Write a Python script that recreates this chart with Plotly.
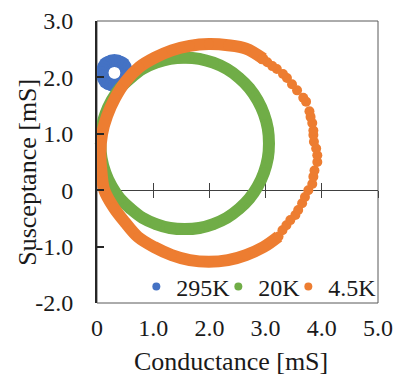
import plotly.graph_objects as go

# ---- data ----
series_names = ["295K", "20K", "4.5K"]

blue_g = [0.53, 0.52, 0.50, 0.47, 0.42, 0.37, 0.31, 0.25, 0.20, 0.15, 0.12, 0.10,
          0.09, 0.10, 0.12, 0.15, 0.20, 0.25, 0.31, 0.37, 0.42, 0.47, 0.50, 0.52]
blue_b = [2.08, 2.14, 2.19, 2.24, 2.27, 2.29, 2.30, 2.29, 2.27, 2.24, 2.19, 2.14,
          2.08, 2.02, 1.97, 1.92, 1.89, 1.87, 1.86, 1.87, 1.89, 1.92, 1.97, 2.02]

green_g = [3.06, 3.04, 2.97, 2.86, 2.71, 2.53, 2.31, 2.07, 1.82, 1.56, 1.30, 1.05,
           0.81, 0.60, 0.41, 0.26, 0.15, 0.08, 0.06, 0.08, 0.15, 0.26, 0.41, 0.60,
           0.81, 1.05, 1.30, 1.56, 1.82, 2.07, 2.31, 2.53, 2.71, 2.86, 2.97, 3.04]
green_b = [0.83, 1.09, 1.35, 1.59, 1.81, 1.99, 2.15, 2.26, 2.33, 2.35, 2.33, 2.26,
           2.15, 1.99, 1.81, 1.59, 1.35, 1.09, 0.83, 0.57, 0.31, 0.07, -0.15, -0.33,
           -0.49, -0.60, -0.67, -0.69, -0.67, -0.60, -0.49, -0.33, -0.15, 0.07, 0.31, 0.57]

# 4.5K: densely sampled part first, then the sparse dots on the right
orange_g = [2.96, 2.65, 2.33, 1.99, 1.65, 1.33, 1.03, 0.75, 0.51, 0.32, 0.18, 0.09,
            0.06, 0.08, 0.13, 0.30, 0.50, 0.73, 1.02, 1.33, 1.65, 1.99, 2.33, 2.65,
            2.96, 3.23,
            3.30, 3.37, 3.44, 3.53, 3.58, 3.65, 3.70, 3.76, 3.83, 3.85, 3.87, 3.92,
            3.92, 3.90, 3.86, 3.85, 3.85, 3.83, 3.80, 3.78, 3.72, 3.67, 3.56, 3.47,
            3.38, 3.31, 3.20, 3.12, 3.03, 2.94]
orange_b = [2.33, 2.51, 2.57, 2.59, 2.56, 2.48, 2.35, 2.18, 1.93, 1.63, 1.32, 1.00,
            0.66, 0.32, 0.00, -0.31, -0.57, -0.83, -1.01, -1.15, -1.24, -1.27, -1.24, -1.15,
            -1.01, -0.82,
            -0.71, -0.62, -0.53, -0.44, -0.35, -0.23, -0.12, 0.00, 0.11, 0.24, 0.35, 0.50,
            0.62, 0.74, 0.86, 0.98, 1.06, 1.19, 1.30, 1.40, 1.57, 1.64, 1.77, 1.88,
            1.99, 2.06, 2.15, 2.20, 2.27, 2.32]
orange_dense_count = 26

x_tickvals = [0, 1, 2, 3, 4, 5]
x_ticktext = ["0", "1.0", "2.0", "3.0", "4.0", "5.0"]
y_tickvals = [-2, -1, 0, 1, 2, 3]
y_ticktext = ["-2.0", "-1.0", "0", "1.0", "2.0", "3.0"]

BLUE, GREEN, ORANGE = "#4472C4", "#70AD47", "#ED7D31"
FONT = "Liberation Serif"
TXT = "#1a1a1a"
AX = "#404040"

fig = go.Figure()

# 295K
fig.add_trace(go.Scatter(x=blue_g, y=blue_b, mode="markers", showlegend=False,
                         marker=dict(color=BLUE, size=13), cliponaxis=False))
# 20K
fig.add_trace(go.Scatter(x=green_g + green_g[:1], y=green_b + green_b[:1], mode="lines",
                         line=dict(color=GREEN, width=12, shape="spline"),
                         showlegend=False, hoverinfo="skip"))
fig.add_trace(go.Scatter(x=green_g, y=green_b, mode="markers", showlegend=False,
                         marker=dict(color=GREEN, size=11), cliponaxis=False))
# 4.5K
fig.add_trace(go.Scatter(x=orange_g[:orange_dense_count], y=orange_b[:orange_dense_count],
                         mode="lines", line=dict(color=ORANGE, width=12, shape="spline"),
                         showlegend=False, hoverinfo="skip"))
fig.add_trace(go.Scatter(x=orange_g, y=orange_b, mode="markers", showlegend=False,
                         marker=dict(color=ORANGE, size=10), cliponaxis=False))

# legend entries (no data; they also bind the y=0 crossing-tick axes)
legend_axes = ["x2", "x3", "x"]
legend_widths = [37, 25, 47]
for name, col, ax, lw in zip(series_names, [BLUE, GREEN, ORANGE], legend_axes, legend_widths):
    fig.add_trace(go.Scatter(x=[None], y=[None], mode="markers", name=name, xaxis=ax,
                             marker=dict(color=col, size=8), legendwidth=lw))

fig.update_layout(
    width=398, height=376,
    margin=dict(l=97, r=20, t=21, b=73, autoexpand=False),
    paper_bgcolor="white", plot_bgcolor="white",
    font=dict(family=FONT, size=24, color=TXT),
    xaxis=dict(range=[0, 5], tickvals=x_tickvals, ticktext=x_ticktext, ticks="",
               showgrid=False, zeroline=False, showline=False, automargin=False,
               tickfont=dict(size=24, color=TXT), ticklabelstandoff=8),
    xaxis2=dict(overlaying="x", anchor="free", position=0.4, range=[0, 5],
                tickvals=[1, 2, 3, 4, 5], ticks="outside", ticklen=7, tickwidth=1.3,
                tickcolor=AX, showticklabels=False, showline=True, linecolor=AX,
                linewidth=1.3, showgrid=False, zeroline=False, automargin=False,
                layer="below traces"),
    xaxis3=dict(overlaying="x", anchor="free", position=0.4, range=[0, 5],
                tickvals=[1, 2, 3, 4, 5], ticks="inside", ticklen=7, tickwidth=1.3,
                tickcolor=AX, showticklabels=False, showline=False, automargin=False,
                showgrid=False, zeroline=False, layer="below traces"),
    yaxis=dict(range=[-2, 3], tickvals=y_tickvals, ticktext=y_ticktext,
               ticks="inside", ticklen=7, tickwidth=1.5, tickcolor="#262626",
               showline=True, linecolor="#262626", linewidth=2, automargin=False,
               showgrid=False, zeroline=False,
               tickfont=dict(size=24, color=TXT), ticklabelstandoff=17),
    legend=dict(orientation="h", x=0.14, xanchor="left", y=0.057, yanchor="middle",
                bgcolor="rgba(0,0,0,0)", itemwidth=30,
                font=dict(size=24, color=TXT, family=FONT)),
    shapes=[dict(type="rect", xref="paper", yref="paper", x0=0, x1=1, y0=0, y1=1,
                 line=dict(color="#595959", width=1), layer="below")],
    annotations=[
        dict(text="Conductance [mS]", xref="paper", yref="paper", x=0.478, y=-0.209,
             xanchor="center", yanchor="middle", showarrow=False,
             font=dict(size=26, color=TXT, family=FONT)),
        dict(text="Susceptance [mS]", xref="paper", yref="paper", x=-0.25, y=0.4645,
             xanchor="center", yanchor="middle", textangle=-90, showarrow=False,
             font=dict(size=26, color=TXT, family=FONT)),
    ],
)

# the page's default 8px body margin would shift and overflow the 398x376 figure
fig.write_html("out.html",
               config={"displayModeBar": False},
               post_script="document.body.style.margin='0';"
                           "document.documentElement.style.overflow='hidden';")
